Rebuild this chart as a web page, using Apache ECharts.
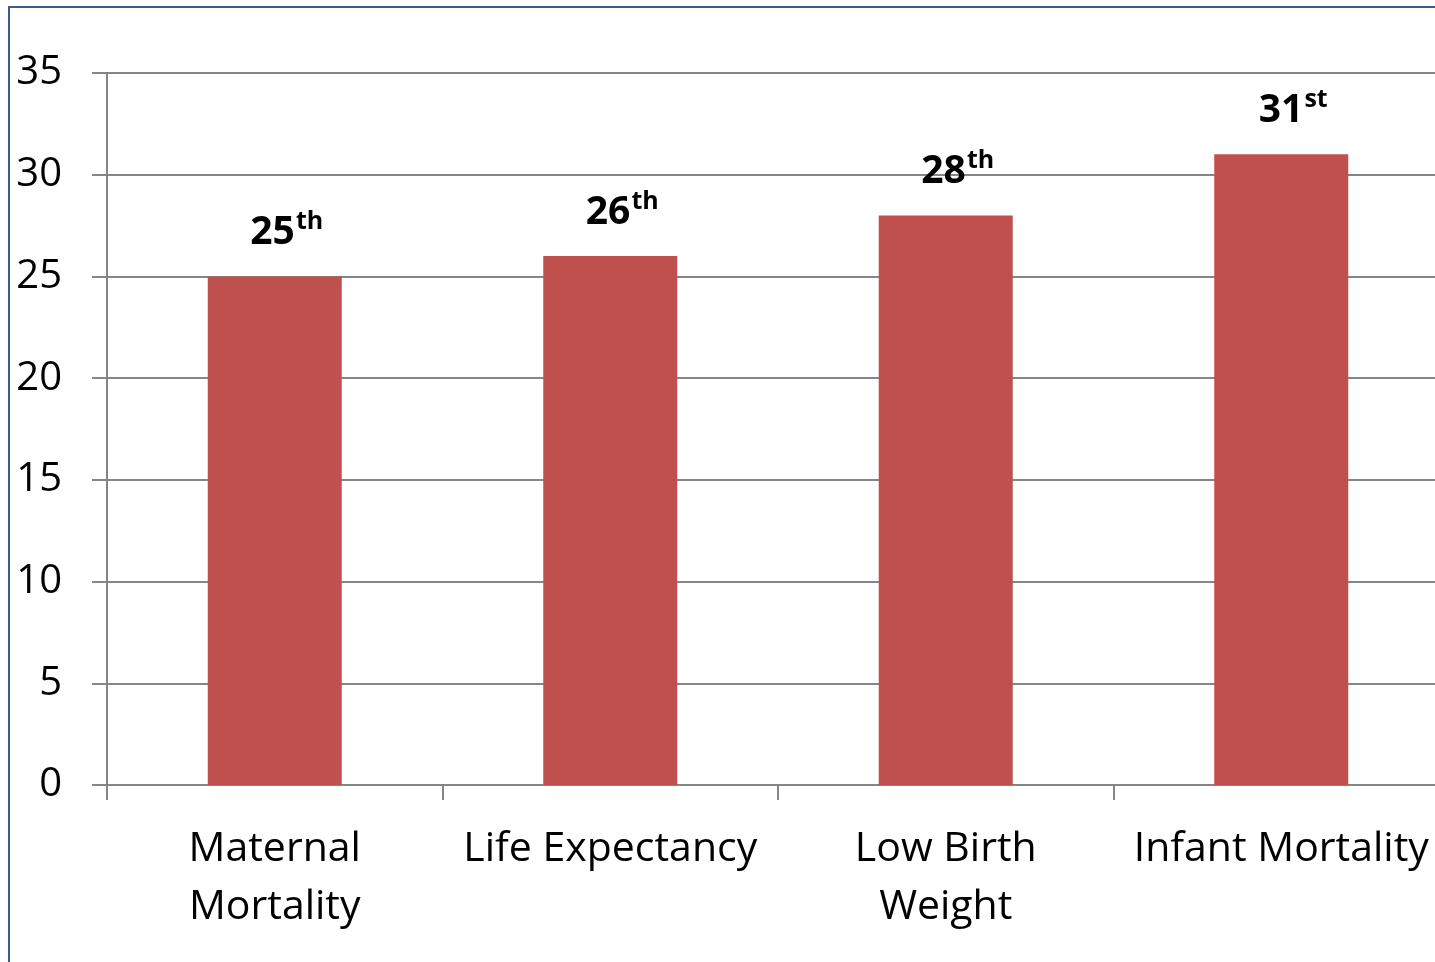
<!DOCTYPE html>
<html>
<head>
<meta charset="utf-8">
<script src="https://cdn.jsdelivr.net/npm/echarts@6/dist/echarts.min.js"></script>
<style>
  html, body { margin: 0; padding: 0; overflow: hidden; background: #fff; }
  #chart { width: 1460px; height: 962px; }
</style>
</head>
<body>
<div id="chart"></div>
<script>
// chart data
const categories = ['Maternal\nMortality', 'Life Expectancy', 'Low Birth\nWeight', 'Infant Mortality'];
const ranks = [25, 26, 28, 31];
const suffixes = ['th', 'th', 'th', 'st'];
const yTicks = [0, 5, 10, 15, 20, 25, 30, 35];

const chart = echarts.init(document.getElementById('chart'));

chart.setOption({
  animation: false,
  textStyle: { fontFamily: 'Open Sans' },
  graphic: [{
    type: 'rect',
    shape: { x: 9, y: 7, width: 1600, height: 1100 },
    style: { fill: 'none', stroke: '#385D8A', lineWidth: 2 }
  }],
  grid: { left: 107, top: 73, right: 11, bottom: 177 },
  xAxis: {
    type: 'category',
    data: categories,
    axisLine: { lineStyle: { color: '#868686', width: 2 } },
    axisTick: { show: true, length: 15, lineStyle: { color: '#868686', width: 2 } },
    axisLabel: {
      color: '#000',
      fontSize: 41,
      lineHeight: 58,
      margin: 35,
      interval: 0
    }
  },
  yAxis: {
    type: 'value',
    min: yTicks[0],
    max: yTicks[yTicks.length - 1],
    interval: 5,
    axisLine: { show: true, lineStyle: { color: '#868686', width: 2 } },
    axisTick: { show: true, length: 15, lineStyle: { color: '#868686', width: 2 } },
    splitLine: { lineStyle: { color: '#868686', width: 2 } },
    axisLabel: { color: '#000', fontSize: 40, margin: 45 }
  },
  series: [{
    type: 'bar',
    barWidth: 134,
    itemStyle: { color: '#C0504D' },
    data: ranks,
    label: {
      show: true,
      position: 'top',
      distance: 20,
      offset: [12, 0],
      formatter: (p) => '{n|' + ranks[p.dataIndex] + '}{s|' + suffixes[p.dataIndex] + '}',
      rich: {
        n: { fontSize: 39, fontWeight: 'bold', color: '#000', fontFamily: 'Open Sans' },
        s: { fontSize: 25, fontWeight: 'bold', color: '#000', fontFamily: 'Open Sans', verticalAlign: 'bottom', padding: [0, 0, 22, 1] }
      }
    }
  }]
});
</script>
</body>
</html>
